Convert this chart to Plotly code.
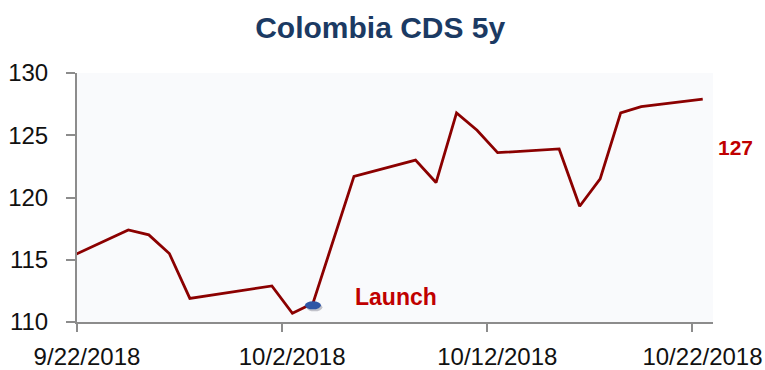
import pandas as pd
import plotly.graph_objects as go

# Colombia 5y CDS spread (bp), daily closes
dates = [
    "2018-09-21", "2018-09-24", "2018-09-25", "2018-09-26", "2018-09-27",
    "2018-10-01", "2018-10-02", "2018-10-03", "2018-10-05", "2018-10-08",
    "2018-10-09", "2018-10-10", "2018-10-11", "2018-10-12", "2018-10-15",
    "2018-10-16", "2018-10-17", "2018-10-18", "2018-10-19", "2018-10-22",
]
spread = [
    115.1, 117.4, 117.0, 115.5, 111.9,
    112.9, 110.7, 111.5, 121.7, 123.0,
    121.2, 126.8, 125.4, 123.6, 123.9,
    119.3, 121.5, 126.8, 127.3, 127.9,
]
launch_date = "2018-10-03"
y_ticks = [110, 115, 120, 125, 130]
x_range = ["2018-09-22", "2018-10-23"]

DAY_MS = 86400000
SANS = "Liberation Sans, Arial, sans-serif"
RED_TXT = "#C00000"
AXIS_GREY = "#8C8C8C"

fig = go.Figure()
fig.add_trace(go.Scatter(
    x=dates, y=spread, mode="lines",
    xperiod=DAY_MS, xperiodalignment="middle",
    line=dict(color="#8B0000", width=2.8),
    hoverinfo="x+y", showlegend=False,
))

# launch marker: ellipse centred on the launch day's point
li = dates.index(launch_date)
launch_x = pd.Timestamp(launch_date) + pd.Timedelta(milliseconds=DAY_MS / 2)
launch_y = spread[li]
for dx, dy, col in [(1.5, -2.0, "rgba(90,90,110,0.35)"), (0, 0, "#2F56A6")]:
    fig.add_shape(
        type="circle", xref="x", yref="y",
        xsizemode="pixel", ysizemode="pixel",
        xanchor=launch_x, yanchor=launch_y,
        x0=-8 + dx, x1=8 + dx, y0=-6 + dy, y1=2 + dy,
        fillcolor=col, line=dict(width=0), layer="above",
    )

fig.add_annotation(
    x=launch_x, y=launch_y, xref="x", yref="y",
    text="<b>Launch</b>", showarrow=False,
    xanchor="left", yanchor="middle", xshift=40, yshift=6,
    font=dict(family=SANS, size=23, color=RED_TXT),
)

last_x = pd.Timestamp(dates[-1]) + pd.Timedelta(milliseconds=DAY_MS / 2)
fig.add_annotation(
    x=last_x, y=spread[-1], xref="x", yref="y",
    text=f"<b>{int(spread[-1])}</b>", showarrow=False,
    xanchor="left", yanchor="middle", xshift=13, yshift=-48,
    font=dict(family=SANS, size=21, color=RED_TXT),
)

fig.update_layout(
    width=765, height=370,
    margin=dict(l=77, r=52, t=73, b=48),
    paper_bgcolor="#FFFFFF",
    plot_bgcolor="#F9FAFC",
    title=dict(
        text="<b>Colombia CDS 5y</b>",
        x=0.497, xref="container", xanchor="center",
        y=1 - 27 / 370, yref="container", yanchor="middle",
        font=dict(family=SANS, size=30, color="#1B3A63"),
    ),
    xaxis=dict(
        type="date", range=x_range, automargin=False,
        tick0=x_range[0], dtick=10 * DAY_MS, tickformat="%-m/%-d/%Y",
        ticks="outside", ticklen=8, tickwidth=2, tickcolor=AXIS_GREY,
        ticklabelshift=10, ticklabelstandoff=4, ticklabeloverflow="allow",
        showline=True, linecolor=AXIS_GREY, linewidth=2,
        showgrid=False, zeroline=False,
        tickfont=dict(family=SANS, size=24, color="#111111"),
    ),
    yaxis=dict(
        range=[y_ticks[0], y_ticks[-1]], tickvals=y_ticks, automargin=False,
        ticks="outside", ticklen=9, tickwidth=2, tickcolor=AXIS_GREY,
        ticklabelstandoff=13,
        showline=True, linecolor=AXIS_GREY, linewidth=2,
        showgrid=False, zeroline=False,
        tickfont=dict(family=SANS, size=24, color="#111111"),
    ),
)

fig.write_html("out.html")
